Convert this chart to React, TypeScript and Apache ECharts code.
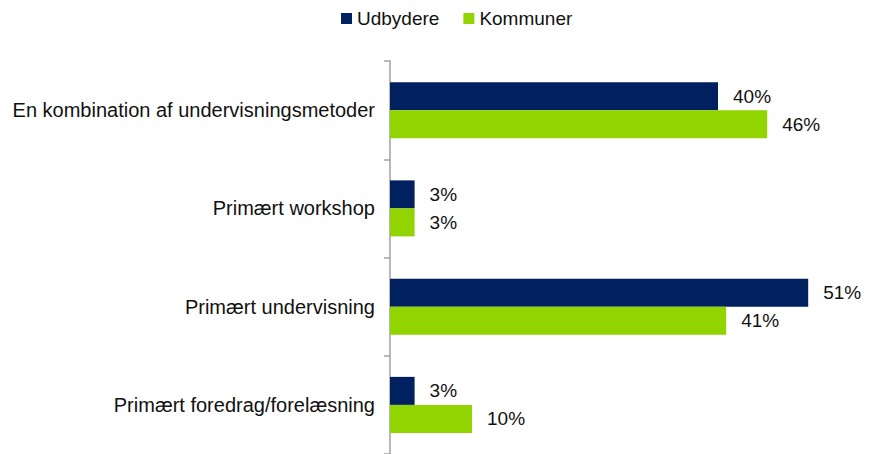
import React, { useEffect, useRef } from "react";
import * as echarts from "echarts";

const categories = [
  "En kombination af undervisningsmetoder",
  "Primært workshop",
  "Primært undervisning",
  "Primært foredrag/forelæsning",
];
const udbydere = [40, 3, 51, 3];
const kommuner = [46, 3, 41, 10];
const seriesNames = ["Udbydere", "Kommuner"];

const FONT = "Liberation Sans, Arial, sans-serif";

export default function App() {
  const ref = useRef<HTMLDivElement>(null);
  useEffect(() => {
    if (!ref.current) return;
    const chart = echarts.init(ref.current, null, { renderer: "svg" });
    const label = {
      show: true,
      position: "right",
      distance: 15,
      formatter: "{c}%",
      color: "#111",
      fontSize: 19,
      fontFamily: FONT,
    };
    chart.setOption({
      animation: false,
      textStyle: { fontFamily: FONT },
      legend: {
        top: 4,
        left: 336,
        icon: "rect",
        itemWidth: 11,
        itemHeight: 11,
        itemGap: 24,
        textStyle: { fontSize: 19, color: "#111", fontFamily: FONT },
        data: seriesNames,
      },
      grid: { left: 390, top: 61, height: 396, right: 33, containLabel: false },
      xAxis: {
        type: "value",
        min: 0,
        max: 55,
        show: false,
      },
      yAxis: {
        type: "category",
        inverse: true,
        data: categories,
        axisLine: { show: true, lineStyle: { color: "#a0a0a0", width: 1.5 } },
        axisTick: { show: true, length: 6, lineStyle: { color: "#a0a0a0", width: 1.5 } },
        axisLabel: { fontSize: 20, color: "#111", margin: 15, fontFamily: FONT },
        splitLine: { show: false },
      },
      series: [
        {
          name: seriesNames[0],
          type: "bar",
          data: udbydere,
          barWidth: 28,
          barGap: "0%",
          itemStyle: { color: "#002060" },
          label,
        },
        {
          name: seriesNames[1],
          type: "bar",
          data: kommuner,
          barWidth: 28,
          barGap: "0%",
          itemStyle: { color: "#92D400" },
          label,
        },
      ],
    });
    return () => chart.dispose();
  }, []);
  return <div ref={ref} style={{ width: 874, height: 454, position: "absolute", left: 0, top: 0 }} />;
}
